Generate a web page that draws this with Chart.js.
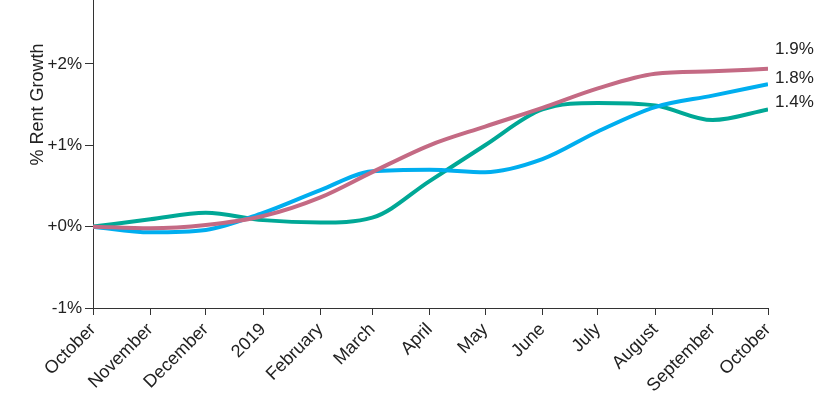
<!DOCTYPE html>
<html>
<head>
<meta charset="utf-8">
<script src="https://cdn.jsdelivr.net/npm/chart.js@4.4.0/dist/chart.umd.min.js"></script>
<style>
  html, body { margin: 0; padding: 0; background: #fff; overflow: hidden; }
  #wrap { position: absolute; left: 0; top: -112px; width: 820px; height: 506px; }
</style>
</head>
<body>
<div id="wrap"><canvas id="lineChart"></canvas></div>
<script>
// days since 1 Oct 2018 for each month start
const dayOffsets = [0, 31, 61, 92, 123, 151, 182, 212, 243, 273, 304, 335, 365];
const monthLabels = ["October", "November", "December", "2019", "February", "March", "April",
  "May", "June", "July", "August", "September", "October"];

const pinkValues = [0, -0.02, 0.02, 0.13, 0.36, 0.67, 1.0, 1.23, 1.46, 1.70, 1.88, 1.91, 1.94];
const blueValues = [0, -0.07, -0.04, 0.17, 0.45, 0.68, 0.70, 0.67, 0.83, 1.17, 1.47, 1.61, 1.75];
const tealValues = [0, 0.09, 0.17, 0.08, 0.05, 0.11, 0.56, 1.0, 1.44, 1.52, 1.49, 1.31, 1.44];

const endLabels = ["1.9%", "1.8%", "1.4%"];
const yTicks = [-1, 0, 1, 2, 3, 4];

const FONT = "'Liberation Sans', Arial, sans-serif";

function pts(vals) {
  return vals.map((v, i) => ({ x: dayOffsets[i], y: v }));
}

const endLabelPlugin = {
  id: "endLabels",
  afterDatasetsDraw(chart) {
    const c = chart.ctx;
    const shift = [-19, -6, -7];
    c.save();
    c.font = "17px " + FONT;
    c.fillStyle = "#222";
    c.textBaseline = "middle";
    chart.data.datasets.forEach((ds, i) => {
      const last = ds.data[ds.data.length - 1];
      const x = chart.scales.x.getPixelForValue(last.x) + 7;
      const y = chart.scales.y.getPixelForValue(last.y) + shift[i];
      c.fillText(endLabels[i], x, y);
    });
    c.restore();
  }
};

let ctx = document.getElementById("lineChart").getContext("2d");
let myChart = new Chart(ctx, {
  type: "line",
  data: {
    datasets: [
      { data: pts(pinkValues), borderColor: "#c46a84" },
      { data: pts(blueValues), borderColor: "#00aeef" },
      { data: pts(tealValues), borderColor: "#00a896" },
    ],
  },
  options: {
    responsive: true,
    maintainAspectRatio: false,
    animation: false,
    layout: { padding: { right: 52, top: 0, left: 0, bottom: 0 } },
    elements: {
      line: { borderWidth: 4, tension: 0.4, cubicInterpolationMode: "monotone" },
      point: { radius: 0 },
    },
    plugins: { legend: { display: false }, tooltip: { enabled: false } },
    scales: {
      x: {
        type: "linear",
        min: 0,
        max: 365,
        afterBuildTicks: (axis) => { axis.ticks = dayOffsets.map((v) => ({ value: v })); },
        afterFit: (axis) => { axis.height = 86; },
        ticks: {
          autoSkip: false,
          minRotation: 45,
          maxRotation: 45,
          color: "#222",
          padding: 4,
          font: { family: FONT, size: 18 },
          callback: (v, i) => monthLabels[i],
        },
        grid: { drawOnChartArea: false, drawTicks: true, tickLength: 7, color: "#333" },
        border: { color: "#333", width: 1 },
      },
      y: {
        min: -1,
        max: 4,
        afterBuildTicks: (axis) => { axis.ticks = yTicks.map((v) => ({ value: v })); },
        afterFit: (axis) => { axis.width = 93; },
        ticks: {
          color: "#222",
          padding: 3,
          font: { family: FONT, size: 17 },
          callback: (v) => (v < 0 ? v : "+" + v) + "%",
        },
        grid: { drawOnChartArea: false, drawTicks: true, tickLength: 8, color: "#333" },
        border: { color: "#333", width: 1 },
        title: {
          display: true,
          text: "% Rent Growth",
          color: "#222",
          padding: { top: 27, bottom: 0 },
          font: { family: FONT, size: 18 },
        },
      },
    },
  },
  plugins: [endLabelPlugin],
});
</script>
</body>
</html>
